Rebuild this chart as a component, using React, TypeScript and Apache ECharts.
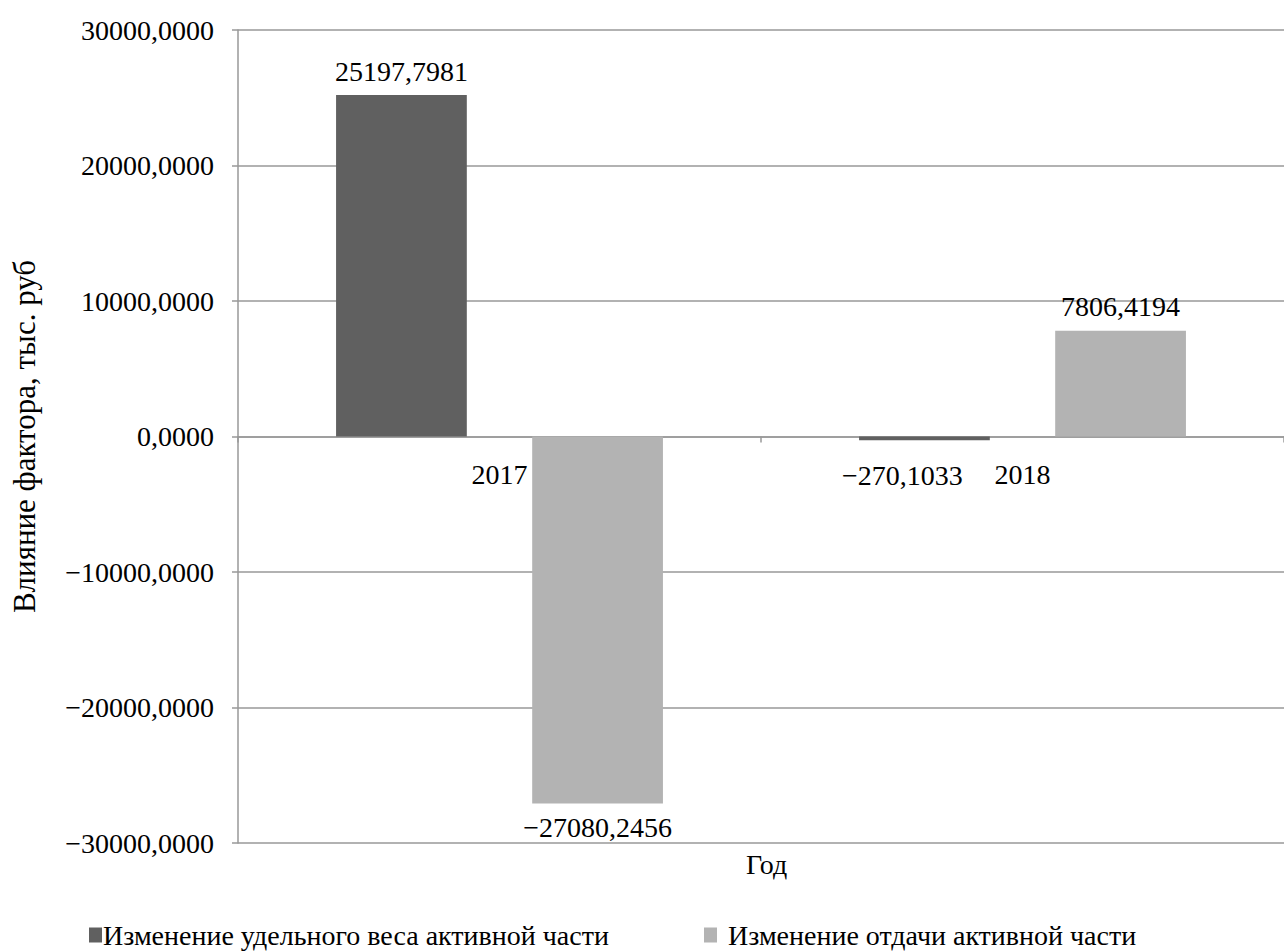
import React, { useEffect, useRef } from "react";
import * as echarts from "echarts";

const categories = ["2017", "2018"];
const seriesNames = [
  "Изменение удельного веса активной части",
  "Изменение отдачи активной части",
];
const weightValues = [25197.7981, -270.1033];
const returnValues = [-27080.2456, 7806.4194];
const yMin = -30000;
const yMax = 30000;
const yInterval = 10000;
const xAxisTitle = "Год";
const yAxisTitle = "Влияние фактора, тыс. руб";

const FONT = "Liberation Serif";

function fmt(v: number): string {
  const s = Math.abs(v).toFixed(4).replace(".", ",");
  return v < 0 ? "\u2212" + s : s;
}

function mkData(vals: number[], offsets: number[][]) {
  return vals.map((v, i) => ({
    value: v,
    label: { position: v < 0 ? "bottom" : "top", offset: offsets[i] },
  }));
}

export default function App() {
  const ref = useRef<HTMLDivElement>(null);
  useEffect(() => {
    if (!ref.current) return;
    const chart = echarts.init(ref.current, undefined, { renderer: "svg" });
    const labelCommon = {
      show: true,
      fontFamily: FONT,
      fontSize: 28,
      color: "#000",
      distance: 10,
      formatter: (p: any) => fmt(p.value),
    };
    chart.setOption({
      animation: false,
      backgroundColor: "#fff",
      textStyle: { fontFamily: FONT },
      grid: {
        left: 238,
        right: 0,
        top: 30,
        bottom: 108,
        containLabel: false,
        outerBoundsMode: "none",
      },
      legend: [
        {
          data: [seriesNames[0]],
          left: 84,
          top: 916,
          icon: "rect",
          itemWidth: 13,
          itemHeight: 15,
          itemGap: 0,
          textStyle: { fontFamily: FONT, fontSize: 28, color: "#000", padding: [0, 0, 0, -4] },
        },
        {
          data: [seriesNames[1]],
          left: 699,
          top: 916,
          icon: "rect",
          itemWidth: 13,
          itemHeight: 15,
          itemGap: 0,
          textStyle: { fontFamily: FONT, fontSize: 28, color: "#000", padding: [0, 0, 0, 6] },
        },
      ],
      graphic: [
        {
          type: "text",
          left: 746,
          top: 850,
          style: { text: xAxisTitle, font: `28px ${FONT}`, fill: "#000" },
        },
      ],
      xAxis: {
        type: "category",
        data: categories,
        axisLine: { onZero: true, lineStyle: { color: "#999", width: 1.5 } },
        axisTick: { show: true, alignWithLabel: false, length: 6, lineStyle: { color: "#999", width: 1.5 } },
        axisLabel: { fontFamily: FONT, fontSize: 28, color: "#000", margin: -383 },
      },
      yAxis: {
        type: "value",
        min: yMin,
        max: yMax,
        interval: yInterval,
        name: yAxisTitle,
        nameLocation: "middle",
        nameGap: 198,
        nameTextStyle: { fontFamily: FONT, fontSize: 31, color: "#000" },
        axisLine: { show: true, lineStyle: { color: "#999", width: 1.5 } },
        axisTick: { show: true, length: 6, lineStyle: { color: "#999", width: 1.5 } },
        splitLine: { show: true, lineStyle: { color: "#999", width: 1.5 } },
        axisLabel: {
          fontFamily: FONT,
          fontSize: 28,
          color: "#000",
          margin: 24,
          formatter: (v: number) => fmt(v),
        },
      },
      series: [
        {
          name: seriesNames[0],
          type: "bar",
          data: mkData(weightValues, [[0, 0], [-22, 11]]),
          barWidth: "25%",
          barGap: "50%",
          itemStyle: { color: "#606060" },
          label: labelCommon,
        },
        {
          name: seriesNames[1],
          type: "bar",
          data: mkData(returnValues, [[0, 0], [0, 0]]),
          barWidth: "25%",
          barGap: "50%",
          itemStyle: { color: "#b3b3b3" },
          label: labelCommon,
        },
      ],
    });
    return () => chart.dispose();
  }, []);
  return <div ref={ref} style={{ width: 1284, height: 951, position: "absolute", left: 0, top: 0 }} />;
}
